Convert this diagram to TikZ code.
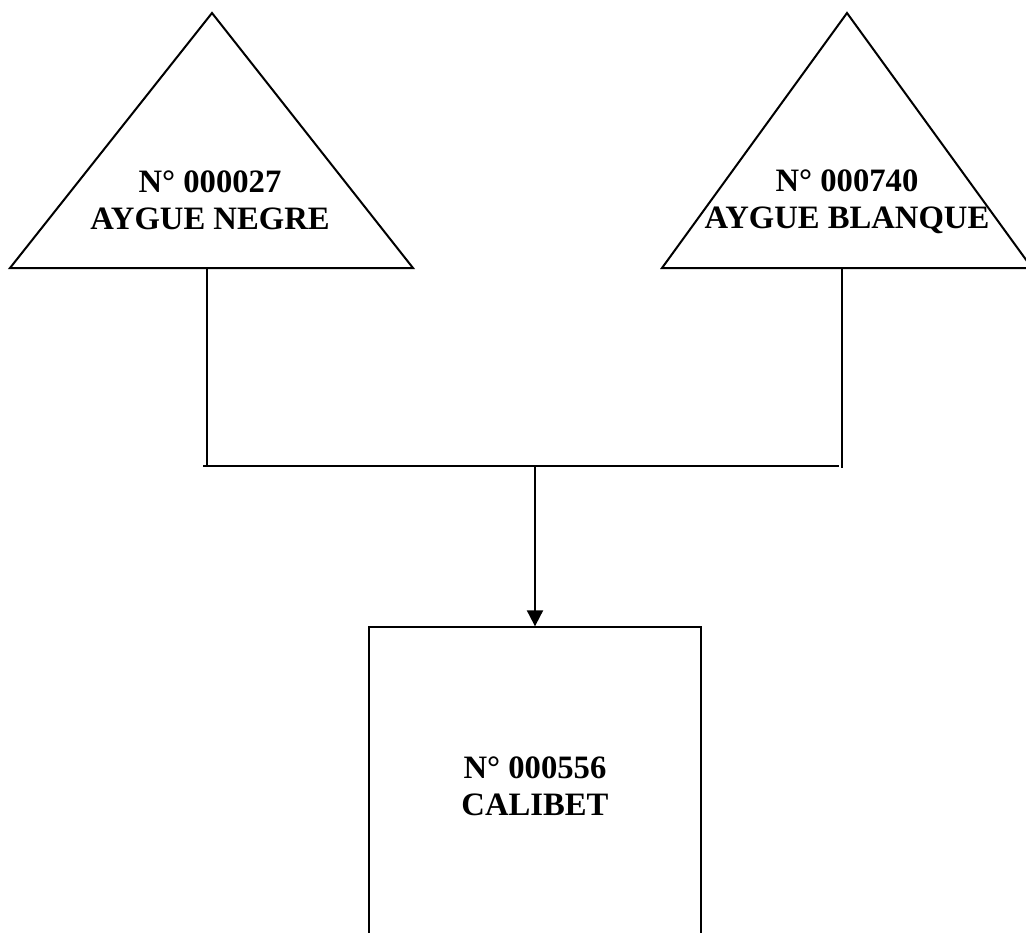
\documentclass[tikz,border=0pt]{standalone}
\usepackage{fontspec}
\setmainfont{Liberation Serif}
\usetikzlibrary{arrows.meta}
\begin{document}
\begin{tikzpicture}[x=0.75pt,y=-0.75pt,
  shapeline/.style={draw=black,line width=1.5pt,line join=miter},
  conn/.style={draw=black,line width=1.5pt},
  lbl/.style={font=\fontsize{24.5}{28}\selectfont\bfseries,align=center,inner sep=0pt},
  boxnode/.style={draw=black,line width=1.5pt,minimum width=249pt,minimum height=238pt,inner sep=0pt,
    font=\fontsize{24.5}{28}\selectfont\bfseries,align=center}]
\clip (0,0) rectangle (1026,933);
% triangles
\draw[shapeline] (10,268) -- (212,13) -- (413,268) -- cycle;
\draw[shapeline] (662,268) -- (847,13) -- (1032,268) -- cycle;
\node[lbl] (negre) at (210,200) {N° 000027\\AYGUE NEGRE};
\node[lbl] (blanque) at (847,202) {N° 000740\\AYGUE BLANQUE};
% box
\node[boxnode] (calibet) at (535,786) {N° 000556\\CALIBET};
% connectors
\coordinate (tL) at (207,268);
\coordinate (tR) at (842,268);
\coordinate (jL) at (207,466);
\coordinate (jR) at (842,468);
\coordinate (bL) at (203,466);
\coordinate (bR) at (839,466);
\coordinate (jM) at (535,466);
\draw[conn] (tL) -- (jL);
\draw[conn] (tR) -- (jR);
\draw[conn] (bL) -- (bR);
\draw[conn,-{Triangle[width=12pt,length=12pt]}] (jM) -- (calibet.north);
\end{tikzpicture}
\end{document}
